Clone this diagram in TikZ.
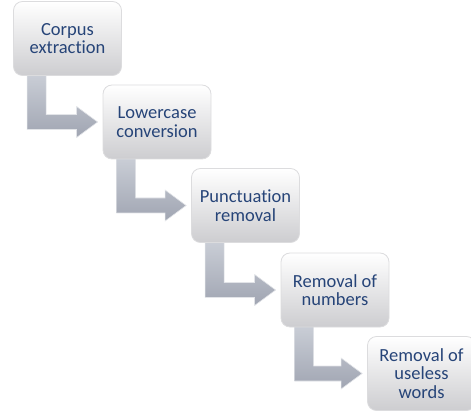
\documentclass[tikz,border=0pt]{standalone}
\usepackage{fontspec}
\setmainfont{Carlito}[Ligatures={NoCommon,NoRare}]
\usetikzlibrary{calc}
\pgfdeclarelayer{bg}
\pgfsetlayers{bg,main}
\definecolor{txtblue}{RGB}{38,68,120}
\definecolor{boxedge}{RGB}{220,220,222}
\definecolor{boxbot}{RGB}{205,205,208}
\definecolor{arrtop}{RGB}{204,208,216}
\definecolor{arrbot}{RGB}{160,165,178}
\tikzset{
  x=1pt,y=1pt,
  stepbox/.style={draw=boxedge, line width=0.8pt, rounded corners=9pt,
    top color=white, bottom color=boxbot, minimum width=108pt, minimum height=74pt,
    align=center, text=txtblue, font=\fontsize{18.5}{18.5}\selectfont, inner sep=2pt},
  bentarrow/.style={draw=white!70!arrbot, line width=0.6pt, top color=arrtop, bottom color=arrbot}
}
\newcommand{\bentarr}[2]{%
  \begin{pgfonlayer}{bg}
  \draw[bentarrow] let \p1=(#1.south west), \p2=(#2.west) in
    (\x1+14pt,\y1+5pt) -- (\x1+33pt,\y1+5pt) -- (\x1+33pt,\y2+7.5pt)
    -- (\x2-26pt,\y2+7.5pt) -- (\x2-26pt,\y2+15.5pt) -- (\x2-5pt,\y2)
    -- (\x2-26pt,\y2-15.5pt) -- (\x2-26pt,\y2-7.5pt) -- (\x1+14pt,\y2-7.5pt) -- cycle;
  \end{pgfonlayer}}
\begin{document}
\begin{tikzpicture}
\useasboundingbox (0,0) rectangle (471,-414);
\clip (0,0) rectangle (471,-414);
\node[stepbox] (b1) at (67.5,-38.5) {Corpus\\extraction};
\node[stepbox] (b2) at (157,-122) {Lowercase\\conversion};
\node[stepbox] (b3) at (245.5,-205.5) {Punctuation\\removal};
\node[stepbox] (b4) at (335,-290) {Removal of\\numbers};
\node[stepbox] (b5) at (421.5,-373.5) {Removal of\\useless\\words};
\bentarr{b1}{b2}
\bentarr{b2}{b3}
\bentarr{b3}{b4}
\bentarr{b4}{b5}
\end{tikzpicture}
\end{document}
